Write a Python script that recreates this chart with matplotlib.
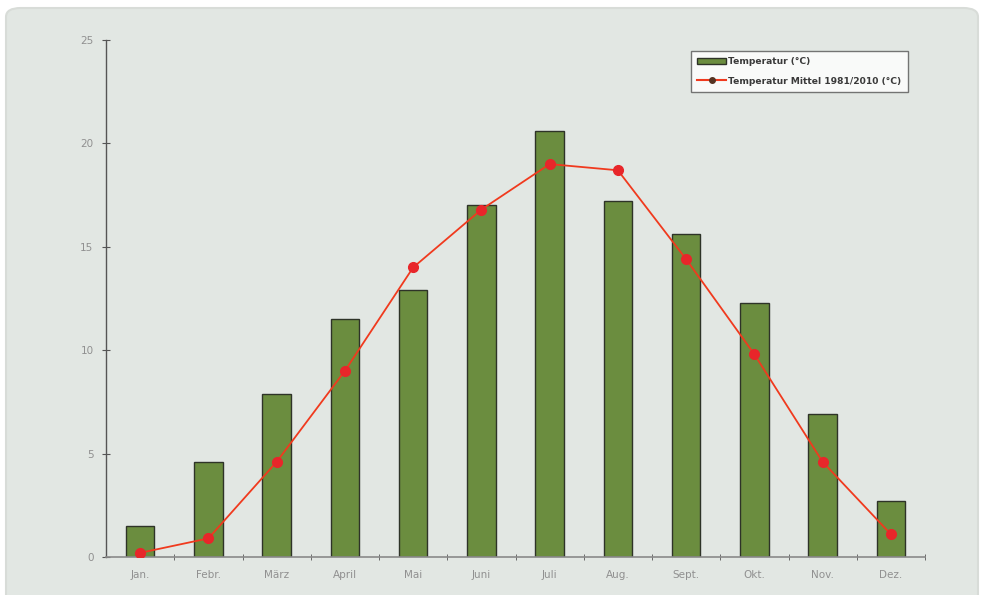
import numpy as np
from matplotlib import pyplot as plt
from matplotlib.patches import FancyBboxPatch
from matplotlib.lines import Line2D
from matplotlib.patches import Patch

months = ['Jan.', 'Febr.', 'März', 'April', 'Mai', 'Juni', 'Juli', 'Aug.', 'Sept.', 'Okt.', 'Nov.', 'Dez.']
temp = [1.5, 4.6, 7.9, 11.5, 12.9, 17.0, 20.6, 17.2, 15.6, 12.3, 6.9, 2.7]
temp_mean = [0.2, 0.9, 4.6, 9.0, 14.0, 16.8, 19.0, 18.7, 14.4, 9.8, 4.6, 1.1]
y_ticks = [0, 5, 10, 15, 20, 25]

BG = '#e2e7e3'
GREEN = '#6b8d3f'
RED = '#f03a1e'

fig = plt.figure(figsize=(9.82, 5.95), dpi=100)
fig.patch.set_facecolor('white')

# panel with rounded corners
panel = FancyBboxPatch((6/982, -0.05), 972/982, 1 - 8/595 + 0.05,
                       boxstyle='round,pad=0,rounding_size=0.015',
                       transform=fig.transFigure, facecolor=BG,
                       edgecolor='#d8dcd8', linewidth=1.5, zorder=-10)
fig.add_artist(panel)

ax = fig.add_axes([106/982, 1 - 557/595, (925 - 106)/982, (557 - 40)/595])
ax.set_facecolor('none')
ax.set_zorder(5)

x = np.arange(len(months))
ax.bar(x, temp, width=0.42, color=GREEN, edgecolor='#2e3328', linewidth=1.0, zorder=2)
ax.plot(x, temp_mean, color=RED, linewidth=1.3, marker='o', markersize=7,
        markerfacecolor='#e8262a', markeredgecolor='#e8262a', zorder=3)

ax.set_xlim(-0.5, len(months) - 0.5)
ax.set_ylim(0, 25)
ax.set_yticks(y_ticks)
ax.set_xticks(x)
ax.set_xticklabels(months)
ax.set_xticks(np.arange(len(months)) + 0.5, minor=True)

for s in ['top', 'right']:
    ax.spines[s].set_visible(False)
ax.spines['left'].set_color('#555555')
ax.spines['bottom'].set_color('#8a8a8a')
ax.spines['left'].set_linewidth(1.0)
ax.spines['bottom'].set_linewidth(1.2)

ax.tick_params(axis='x', which='major', length=0, pad=9, labelsize=7.5, labelcolor='#909090')
ax.tick_params(axis='x', which='minor', length=5, direction='inout', color='#555555')
ax.tick_params(axis='y', length=6, direction='inout', color='#555555', pad=6,
               labelsize=7.5, labelcolor='#909090')

handles = [Patch(facecolor=GREEN, edgecolor='#2e3328', label='Temperatur (°C)'),
           Line2D([0], [0], color=RED, marker='o', markersize=4, markerfacecolor='#553322',
                  markeredgecolor='#553322', label='Temperatur Mittel 1981/2010 (°C)')]
leg = ax.legend(handles=handles, loc='upper left',
                bbox_to_anchor=((686 - 106)/819, 1 - (46 - 40)/517),
                prop={'size': 6.6, 'weight': 'bold'}, frameon=True, fancybox=False,
                handlelength=3.2, handleheight=0.6, borderpad=0.7, labelspacing=1.15,
                handletextpad=0.2)
leg.get_frame().set_edgecolor('#555555')
leg.get_frame().set_linewidth(1.0)
for t in leg.get_texts():
    t.set_color('#3a3a3a')

fig.savefig('out.png', dpi=100, facecolor=fig.get_facecolor())
